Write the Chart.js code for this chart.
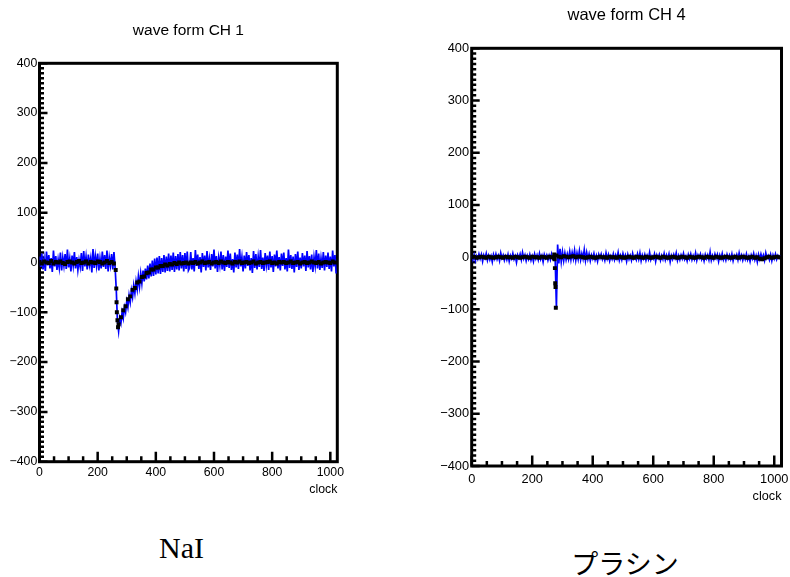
<!DOCTYPE html>
<html>
<head>
<meta charset="utf-8">
<script src="https://cdn.jsdelivr.net/npm/chart.js@4.4.1/dist/chart.umd.min.js"></script>
<style>
  html, body { margin: 0; padding: 0; background: #fff; overflow: hidden; }
  #wrap { position: relative; width: 790px; height: 577px; overflow: hidden; }
  #wrap canvas { position: absolute; top: 0; }
  .cap { position: absolute; transform: translate(-50%, -50%); line-height: 1; white-space: nowrap; color: #000; }
</style>
</head>
<body>
<div id="wrap">
  <canvas id="ch1" width="395" height="500" style="left:0"></canvas>
  <canvas id="ch4" width="400" height="510" style="left:395px"></canvas>
  <div class="cap" style="left:181.5px; top:547.5px; font:30px 'Liberation Serif', serif;">NaI</div>
  <div class="cap" style="left:625px; top:562px; font:27px 'Noto Sans CJK JP', sans-serif;">プラシン</div>
</div>
<script>
// 波形 (ADC) — 青: 生波形, 黒: 平均点
const BLUE_STEP = 4;   // clock per blue sample
const BLACK_STEP = 8;  // clock per black marker
const X_MAX = 1024;

const xTicks = [0, 200, 400, 600, 800, 1000];
const yTicks = [-400, -300, -200, -100, 0, 100, 200, 300, 400];

// CH 1 (NaI)
const ch1Blue = [
  12, -9, 18, -14, 7, -17, 22, -6, 15, -12,
  9, -19, 24, -8, 13, -15, 6, -11, 20, -16,
  10, -7, 17, -13, 26, -10, 8, -18, 14, -6,
  21, -12, 11, -15, 5, -9, 19, -17, 23, -8,
  12, -14, 16, -5, 9, -20, 27, -11, 13, -7,
  18, -16, 8, -12, 22, -9, 15, -13, 24, -18,
  10, -6, 17, -14, 21, -10,
  -55, -118, -138, -112, -122, -100, -112, -90, -100, -78,
  -90, -66, -80, -56, -70, -46, -62, -38, -54, -28,
  -48, -22, -42, -16, -38, -12, -34, -6, -32, -2,
  -28, 4, -27, 8, -24, 10, -22, 13, -23, 9,
  -19, 15, -20, 12, -17, 18, -18, 14, -15, 20,
  -19, 13, -14, 17, -16, 21, -12, 15, -18, 19,
  -13, 22, -16,
  -11, 21, -14, 9, -18, 25, -7, 16, -13, 11,
  -20, 19, -9, 14, -16, 23, -10, 8, -15, 17,
  -8, 26, -12, 13, -19, 10, -6, 22, -14, 15,
  -17, 12, -9, 24, -11, 18, -15, 7, -20, 20,
  -10, 16, -13, 27, -8, 11, -18, 14, -12, 21,
  -7, 15, -16, 9, -21, 23, -11, 17, -14, 12,
  -9, 25, -13, 10, -17, 19, -6, 14, -15, 22,
  -10, 13, -19, 16, -8, 24, -12, 11, -16, 18,
  -7, 20, -14, 9, -18, 26, -11, 15, -13, 12,
  -20, 17, -9, 22, -15, 10, -12, 19, -8, 14,
  -17, 23, -10, 13, -14, 16, -19, 11, -7, 25,
  -12, 18, -15, 9, -11, 21, -16, 14, -9, 20,
  -13, 12, -18, 24, -8, 15, -22
];
const ch1Black = [
  1, -2, 2, 0, -1, 3, -2, 1, 0, 2,
  -1, -3, 1, 2, 0, -2, 1, 3, -1, 0,
  2, -2, 1, 0, -1, 2, 1, -2, 0, 3,
  -1, 1, -2,
  -52,
  -124, -110, -96, -88, -74, -68, -55, -51, -40, -38,
  -29, -28, -21, -20, -14, -14, -10, -10, -7, -7,
  -4, -6, -3, -4, -1, -3, 0, -2, -1, 0,
  -2,
  0, -1, 1, -2, 0, 2, -1, 0, 1, -2,
  0, 1, -1, 2, 0, -1, 1, 0, -2, 1,
  0, 2, -1, 0, 1, -1, 0, 2, -2, 0,
  1, -1, 0, 1, 2, -1, 0, -2, 1, 0,
  1, -1, 0, 2, -1, 0, 1, -2, 0, 1,
  -1, 0, 2, 0, -1, 1, -2, 0, 1, 0,
  -1, 2, 0
];
const ch1Drop = [[262, -15], [265, -80], [266, -100], [268, -116], [270, -130]];

// CH 4 (プラシン)
const ch4Blue = [
  3, -5, 4, -7, 2, -4, 6, -3, 5, -8,
  4, -2, 7, -6, 3, -5, 2, -9, 5, -3,
  6, -4, 3, -7, 8, -2, 4, -6, 2, -5,
  5, -8, 3, -3, 7, -4, 2, -10, 4, -2,
  6, -5, 9, -3, 4, -7, 3, -4, 5, -6,
  2, -8, 6, -3, 4, -5, 7, -4, 3, -9,
  5, -2, 4, -6, 3, -5, 6, -3, 2,
  -6, -97, 24, -12, 16, -9, 10, -7, 8, -5,
  6, -4, 11, -5, 9, -3, 13, -6, 8, -4,
  12, -5, 7, -3, 14, -6, 9, -4, 6, -7,
  4, -3, 7, -5, 3, -8, 5, -2, 6, -4,
  3, -6, 8, -3, 5, -7, 2, -4, 6, -5,
  4, -3, 9, -6, 3, -5, 7, -2, 4, -8,
  5, -4, 3, -6, 7, -3, 2, -5, 6, -4,
  8, -7, 4, -3, 5, -6, 3, -4, 9, -5,
  2, -3, 6, -8, 4, -2, 5, -6, 3, -4,
  7, -5, 4, -3, 6, -9, 3, -4, 5, -2,
  8, -6, 3, -5, 4, -3, 7, -4, 2, -7,
  5, -3, 6, -5, 3, -4, 8, -6, 4, -2,
  6, -4, 3, -7, 5, -3, 4, -5, 10, -6,
  3, -4, 6, -2, 5, -8, 4, -3, 7, -5,
  2, -6, 5, -3, 4, -4, 6, -7, 3, -2,
  5, -5, 8, -3, 4, -6, 3, -4, 6, -5,
  2, -8, 4, -3, 7, -5, 3, -9, 5, -4,
  6, -3, 4, -6, 8, -2, 3, -5, 5, -7,
  4, -3, 6, -4, 3, -2, 4
];
const ch4Black = [
  0, 1, -1, 0, 1, 0, -1, 1, 0, -1,
  0, 1, 0, -1, 1, 0, 0, -1, 1, 0,
  -1, 0, 1, 0, -1, 1, 0, 0, -1, 1,
  0, -1, 1, 0, -1,
  3, 1, 0, 2, 1, 0, 1, 2, 0, 1,
  1, 0, -1, 0, 1, 0, -1, 0, 1, 0,
  0, -1, 1, 0, 0, -1, 1, 0, -1, 0,
  1, 0, -1, 1, 0, 0, -1, 1, 0, -1,
  0, 1, 0, -1, 1, 0, -1, 0, 1, 0,
  -1, 0, 1, 0, -1, 1, 0, -1, 0, 1,
  0, -1, 1, 0, 0, -1, 1, 0, -1, 0,
  1, 0, -1, 0, 1, -1, 0, 1, 0, -1,
  0, 1, -1, 0, -3, -4, -2, 0, 1, -1,
  0, 1, 0
];
const ch4Drop = [[273, 5], [274, -4], [275, -21], [276, -50], [277, -57], [278, -97]];

const SANS = "'Liberation Sans', Arial, Helvetica, sans-serif";

// ROOT 風の枠と内向き目盛り
const rootFrame = {
  id: 'rootFrame',
  beforeDatasetsDraw(chart, args, o) {
    const { ctx, chartArea: a, scales: { x, y } } = chart;
    ctx.save();
    ctx.strokeStyle = '#000';
    ctx.lineWidth = 2.5;
    ctx.beginPath();
    for (let v = 0; v <= 1000; v += 50) {
      const px = x.getPixelForValue(v);
      const len = v % 200 === 0 ? o.xMajor : o.xMinor;
      ctx.moveTo(px, a.bottom);
      ctx.lineTo(px, a.bottom - len);
    }
    for (let v = -400; v <= 400; v += 10) {
      const py = y.getPixelForValue(v);
      const len = v % 100 === 0 ? o.yMajor : o.yMinor;
      ctx.moveTo(a.left, py);
      ctx.lineTo(a.left + len, py);
    }
    ctx.stroke();
    ctx.lineWidth = 3;
    ctx.strokeRect(a.left, a.top, a.right - a.left, a.bottom - a.top);
    ctx.restore();
  }
};

function waveChart(id, g, blue, black, drop) {
  const blackPts = black.map((v, i) => ({ x: i * BLACK_STEP, y: v }))
    .concat(drop.map(([x, y]) => ({ x, y })));
  const bluePts = blue.map((v, i) => ({ x: i * BLUE_STEP, y: v }));

  return new Chart(document.getElementById(id), {
    type: 'line',
    data: {
      datasets: [
        {
          data: blackPts,
          showLine: false,
          pointStyle: 'rect',
          pointRadius: 2.8,
          pointBorderWidth: 0,
          pointBackgroundColor: '#000',
          borderColor: '#000',
        },
        {
          data: bluePts,
          borderColor: '#0000ff',
          borderWidth: 1.7,
          pointRadius: 0,
          tension: 0,
        },
      ],
    },
    options: {
      responsive: false,
      animation: false,
      events: [],
      layout: { padding: { left: 0, right: g.padRight, top: 0, bottom: g.padBottom } },
      plugins: {
        legend: { display: false },
        tooltip: { enabled: false },
        title: {
          display: true,
          text: g.title,
          fullSize: false,
          color: '#000',
          font: { family: SANS, size: g.titleSize, weight: 'normal' },
          padding: { top: g.titleTop, bottom: g.titleBottom },
        },
        rootFrame: g.ticks,
      },
      scales: {
        x: {
          type: 'linear',
          min: 0,
          max: X_MAX,
          afterFit: s => { s.height = g.xHeight; },
          afterBuildTicks: s => { s.ticks = xTicks.map(v => ({ value: v })); },
          grid: { display: false, drawTicks: false },
          border: { display: false },
          ticks: {
            color: '#000',
            font: { family: SANS, size: g.tickSize },
            padding: g.xPad,
            maxRotation: 0,
            autoSkip: false,
            callback: v => String(v),
          },
          title: {
            display: true,
            text: 'clock',
            align: 'end',
            color: '#000',
            font: { family: SANS, size: g.clockSize },
            padding: { top: 0, bottom: g.clockBottom },
          },
        },
        y: {
          type: 'linear',
          min: -400,
          max: 400,
          afterFit: s => { s.width = g.yWidth; },
          afterBuildTicks: s => { s.ticks = yTicks.map(v => ({ value: v })); },
          grid: { display: false, drawTicks: false },
          border: { display: false },
          ticks: {
            color: '#000',
            font: { family: SANS, size: g.tickSize },
            padding: g.yPad,
            callback: v => (v < 0 ? '\u2212' + (-v) : String(v)),
          },
        },
      },
    },
    plugins: [rootFrame],
  });
}

waveChart('ch1', {
  title: 'wave form CH 1', titleSize: 15.5, titleTop: 21.7, titleBottom: 23,
  padRight: 57.7, padBottom: 2.3, xHeight: 36, yWidth: 39.5,
  tickSize: 12.3, xPad: 4, yPad: 2.2, clockSize: 12.3, clockBottom: 0.3,
  ticks: { xMajor: 10, xMinor: 5.5, yMajor: 8, yMinor: 4.5 },
}, ch1Blue, ch1Black, ch1Drop);

waveChart('ch4', {
  title: 'wave form CH 4', titleSize: 16.5, titleTop: 5.6, titleBottom: 22.9,
  padRight: 10.7, padBottom: 4, xHeight: 40, yWidth: 76.7,
  tickSize: 12.8, xPad: 6.2, yPad: 2.7, clockSize: 12.7, clockBottom: 1.4,
  ticks: { xMajor: 10.5, xMinor: 5, yMajor: 8, yMinor: 4.5 },
}, ch4Blue, ch4Black, ch4Drop);
</script>
</body>
</html>
